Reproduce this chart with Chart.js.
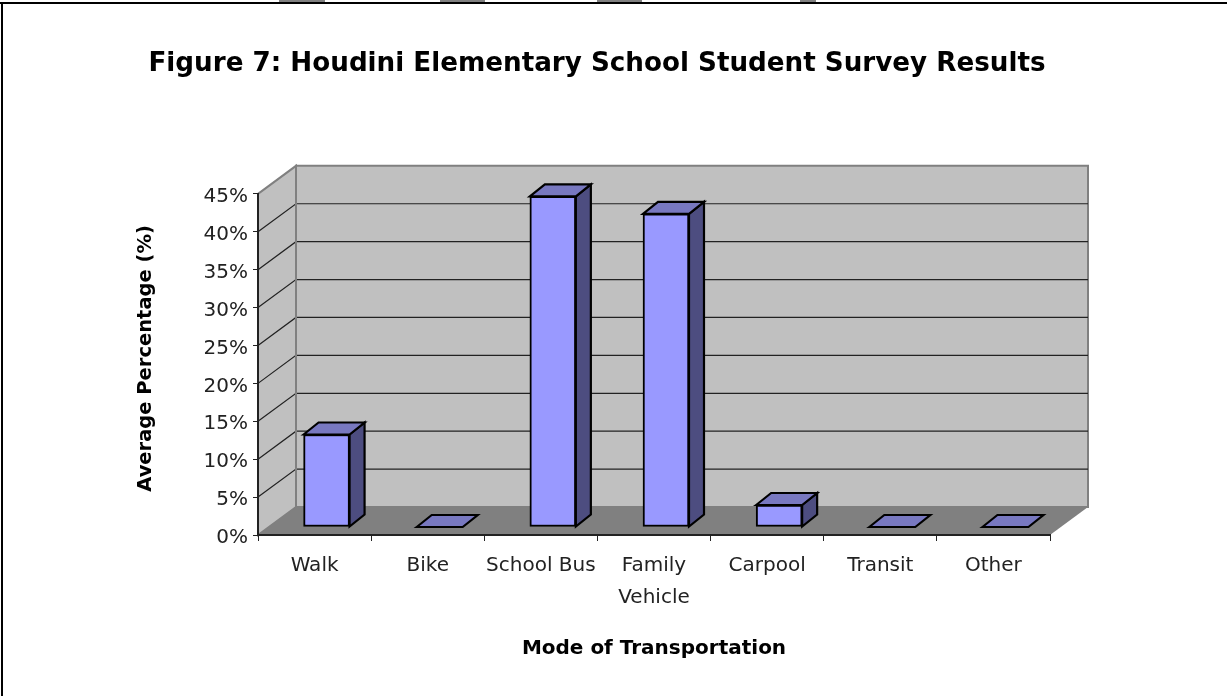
<!DOCTYPE html>
<html>
<head>
<meta charset="utf-8">
<title>Figure 7</title>
<script src="https://cdn.jsdelivr.net/npm/chart.js@4"></script>
<style>
  html, body { margin: 0; padding: 0; background: #fff; overflow: hidden; }
  #wrap { position: relative; width: 1227px; height: 696px; }
</style>
</head>
<body>
<div id="wrap"><canvas id="chart"></canvas></div>
<script>
const categories = ['Walk', 'Bike', 'School Bus', ['Family', 'Vehicle'], 'Carpool', 'Transit', 'Other'];
const averagePercent = [12.2, 0, 43.6, 41.3, 2.9, 0, 0];
const seriesName = 'Average Percentage';
const titleText = 'Figure 7: Houdini Elementary School Student Survey Results';
const xTitle = 'Mode of Transportation';
const yTitle = 'Average Percentage (%)';

// depth of the fake 3D box, in px
const wallX = 38, wallY = -28;
const barShiftX = 12, barShiftY = -8;
const barDepthX = 15, barDepthY = -12;

function poly(ctx, pts, fill, stroke, width) {
  ctx.beginPath();
  pts.forEach((p, i) => i ? ctx.lineTo(p[0], p[1]) : ctx.moveTo(p[0], p[1]));
  ctx.closePath();
  if (fill) { ctx.fillStyle = fill; ctx.fill(); }
  if (stroke) { ctx.strokeStyle = stroke; ctx.lineWidth = width; ctx.lineJoin = 'miter'; ctx.stroke(); }
}

// move one of a scale's draw steps by a few px
function nudge(scale, method, dx, dy) {
  if (scale[method + 'Nudged']) return;
  const original = scale[method];
  scale[method] = function () {
    scale.ctx.save();
    scale.ctx.translate(dx, dy);
    original.call(scale);
    scale.ctx.restore();
  };
  scale[method + 'Nudged'] = true;
}

const box3d = {
  id: 'box3d',
  afterLayout(chart) {
    // the title sits centred on the page area, not on the plot
    chart.titleBlock.left += 10;
    nudge(chart.scales.y, 'drawTitle', 0, -6);
    nudge(chart.scales.y, 'drawLabels', 0, 3);
  },
  beforeDraw(chart) {
    const { ctx, chartArea: a, scales: { y } } = chart;
    ctx.save();

    // page frame and the cut off bits above it
    ctx.fillStyle = '#808080';
    [[279, 46], [440, 45], [597, 45], [800, 16]].forEach(r => ctx.fillRect(r[0], 0, r[1], 2));
    ctx.fillStyle = '#000';
    ctx.fillRect(0, 2, 1227, 2);
    ctx.fillRect(1, 2, 2, 694);

    // walls and floor
    poly(ctx, [[a.left + wallX, a.top + wallY], [a.right + wallX, a.top + wallY],
      [a.right + wallX, a.bottom + wallY], [a.left + wallX, a.bottom + wallY]], '#c0c0c0', '#808080', 2);
    poly(ctx, [[a.left, a.top], [a.left + wallX, a.top + wallY],
      [a.left + wallX, a.bottom + wallY], [a.left, a.bottom]], '#c0c0c0', '#808080', 2);

    // gridlines run along the side wall then the back wall
    ctx.strokeStyle = '#222';
    ctx.lineWidth = 1.2;
    y.ticks.forEach(t => {
      if (t.value <= 0 || t.value >= 45) return;
      const py = y.getPixelForValue(t.value);
      ctx.beginPath();
      ctx.moveTo(a.left, py);
      ctx.lineTo(a.left + wallX, py + wallY);
      ctx.lineTo(a.right + wallX, py + wallY);
      ctx.stroke();
    });
    ctx.strokeStyle = '#808080';
    ctx.lineWidth = 2;
    ctx.beginPath();
    ctx.moveTo(a.left + wallX, a.top + wallY);
    ctx.lineTo(a.left + wallX, a.bottom + wallY);
    ctx.stroke();
    poly(ctx, [[a.left, a.bottom], [a.left + wallX, a.bottom + wallY],
      [a.right + wallX, a.bottom + wallY], [a.right, a.bottom]], '#808080');
    ctx.restore();
  },
  beforeDatasetDraw(chart) {
    chart.ctx.save();
    chart.ctx.translate(barShiftX, barShiftY);
  },
  afterDatasetDraw(chart, args) {
    const ctx = chart.ctx;
    args.meta.data.forEach(bar => {
      const { x, y, base, width } = bar.getProps(['x', 'y', 'base', 'width'], true);
      const l = x - width / 2, r = x + width / 2;
      if (base - y > 1) {
        poly(ctx, [[r, y], [r + barDepthX, y + barDepthY], [r + barDepthX, base + barDepthY], [r, base]],
          '#4d4d80', '#000', 2.2);
      }
      poly(ctx, [[l, y], [l + barDepthX, y + barDepthY], [r + barDepthX, y + barDepthY], [r, y]],
        '#7878c0', '#000', 2.2);
    });
    ctx.restore();
  }
};

new Chart(document.getElementById('chart'), {
  type: 'bar',
  data: {
    labels: categories,
    datasets: [{
      label: seriesName,
      data: averagePercent,
      backgroundColor: '#9999ff',
      borderColor: '#000',
      borderWidth: 2,
      borderSkipped: false,
      barThickness: 46,
      clip: false
    }]
  },
  options: {
    responsive: true,
    maintainAspectRatio: false,
    animation: false,
    layout: { padding: { left: 134, right: 177, top: 0, bottom: 35 } },
    plugins: {
      legend: { display: false },
      tooltip: { enabled: false },
      title: {
        display: true,
        text: titleText,
        color: '#000',
        font: { family: '"DejaVu Sans"', size: 26.2, weight: 'bold', lineHeight: 1.2 },
        padding: { top: 48, bottom: 114.4 }
      }
    },
    scales: {
      x: {
        afterFit(scale) { scale.height = 126; },
        grid: { drawOnChartArea: false, tickLength: 6, color: '#000', tickColor: '#222' },
        border: { color: '#222', width: 2 },
        ticks: {
          color: '#222',
          maxRotation: 0,
          autoSkip: false,
          padding: 9,
          font: { family: '"DejaVu Sans"', size: 20, lineHeight: 1.6 }
        },
        title: {
          display: true,
          text: xTitle,
          color: '#000',
          font: { family: '"DejaVu Sans"', size: 20, weight: 'bold' },
          padding: 0
        }
      },
      y: {
        min: 0,
        max: 45,
        afterFit(scale) { scale.width = 124; },
        grid: { drawOnChartArea: false, tickLength: 5, color: '#000', tickColor: '#222' },
        border: { color: '#222', width: 2 },
        ticks: {
          stepSize: 5,
          color: '#222',
          padding: 5,
          callback: v => v + '%',
          font: { family: '"DejaVu Sans"', size: 20 }
        },
        title: {
          display: true,
          text: yTitle,
          color: '#000',
          font: { family: '"DejaVu Sans"', size: 19.5, weight: 'bold' },
          padding: { top: 0, bottom: 0 }
        }
      }
    }
  },
  plugins: [box3d]
});
</script>
</body>
</html>
